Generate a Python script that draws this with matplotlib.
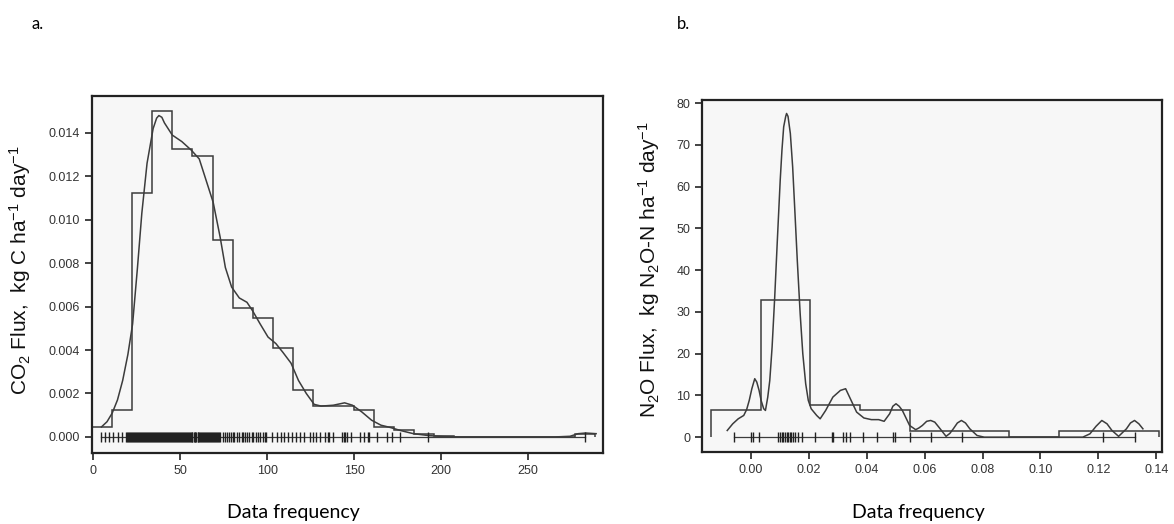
import numpy as np
import matplotlib
matplotlib.use("Agg")
import matplotlib.pyplot as plt

plt.rcParams['font.family'] = ['Liberation Sans', 'DejaVu Sans']
plt.rcParams['mathtext.fontset'] = 'custom'
plt.rcParams['mathtext.rm'] = 'Liberation Sans'
plt.rcParams['mathtext.it'] = 'Liberation Sans:italic'

# ---- panel a: CO2 flux ----
co2_edges = [-0.7, 10.9, 22.4, 34.0, 45.6, 57.1, 68.7, 80.3, 91.9, 103.4, 115.0,
             126.6, 138.1, 149.7, 161.3, 172.8, 184.4, 196.0, 207.6, 219.1, 230.7,
             242.3, 253.8, 265.4, 277.0, 288.6]
co2_hist = [0.00046, 0.00126, 0.01123, 0.0150, 0.01326, 0.01295, 0.00906, 0.00592,
            0.00548, 0.00408, 0.00217, 0.00142, 0.00142, 0.00126, 0.00046, 0.00030,
            0.00015, 0.00006, 0, 0, 0, 0, 0, 0, 0.00012]
co2_kde_x = [4.8, 8, 11, 14, 17, 20, 22.7, 25.5, 28, 31, 34.5, 36.5, 37.8, 39.5, 41,
             45.5, 51, 56.5, 61, 65, 69, 73, 76, 79.6, 84, 88.4, 91.7, 96, 100.5, 105,
             109, 113.7, 118, 122.5, 127, 131, 138, 144.5, 149, 154.4, 160, 165.4, 171,
             176.4, 184, 193, 201.7, 210.5, 230, 250, 265.5, 274, 278.7, 283, 289]
co2_kde_y = [0.00046, 0.0007, 0.0011, 0.0017, 0.0026, 0.0038, 0.0052, 0.0078, 0.0103,
             0.0126, 0.0142, 0.01468, 0.0148, 0.01472, 0.01446, 0.0139, 0.0136, 0.0132,
             0.0128, 0.0118, 0.0108, 0.0092, 0.0078, 0.0069, 0.0064, 0.0062, 0.0058,
             0.0052, 0.0046, 0.0043, 0.0039, 0.0034, 0.0026, 0.0020, 0.0015, 0.00142,
             0.00146, 0.00157, 0.00146, 0.00115, 0.00077, 0.00054, 0.00043, 0.0003,
             0.00015, 0.00006, 0.00002, 0, 0, 0, 0, 0.00003, 0.00015, 0.00018, 0.00015]
co2_rug = [4.4, 6.9, 9.4, 11.7, 14.2, 16.5, 18.8, 19.6,
           20.3, 20.9, 21.4, 22.0, 22.6, 23.1, 23.7, 24.3, 24.8, 25.4, 26.0, 26.5,
           27.1, 27.7, 28.2, 28.8, 29.4, 29.9, 30.5, 31.1, 31.6, 32.2, 32.8, 33.3,
           33.9, 34.5, 35.0, 35.6, 36.2, 36.7, 37.3, 37.9, 38.4, 39.0, 39.6, 40.1,
           40.7, 41.3, 41.8, 42.4, 43.0, 43.5, 44.1, 44.7, 45.2, 45.8, 46.4, 46.9,
           47.5, 48.1, 48.6, 49.2, 49.8, 50.3, 50.9, 51.5, 52.0, 52.6, 53.2, 53.7,
           54.3, 54.9, 55.4, 56.0, 56.6, 57.1, 57.7, 58.3, 58.8, 59.4, 60.0, 60.5,
           61.1, 61.7, 62.2, 62.8, 63.4, 63.9, 64.5, 65.1, 65.6, 66.2, 66.8, 67.3,
           67.9, 68.5, 69.0, 69.6, 70.2, 70.7, 71.3, 71.9, 72.4, 73.0,
           74.9, 75.9, 76.8, 77.8, 79.1, 80.3, 81.2, 82.6, 84.1, 85.4, 86.4, 87.4,
           88.7, 89.8, 91.2, 92.1, 93.7, 95.0, 96.0, 97.5, 98.5, 99.5,
           102.7, 105.5, 108.0, 109.8, 111.7, 114.2, 116.7, 119.0, 121.3, 124.7,
           126.6, 128.2, 130.1, 133.3, 134.7, 135.8, 138.1, 142.9, 143.9, 144.8,
           145.8, 148.1, 153.1, 155.4, 157.7, 158.8, 163.0, 168.8, 171.6, 176.4,
           192.4, 282.8]

# ---- panel b: N2O flux ----
n2o_edges = [-0.0139, 0.0033, 0.0205, 0.0377, 0.0549, 0.0721, 0.0893, 0.1065,
             0.1237, 0.1409]
n2o_hist = [6.4, 32.8, 7.75, 6.4, 1.36, 1.36, 0, 1.36, 1.36]
n2o_kde_x = [-0.0082, -0.0063, -0.0044, -0.0025, -0.0015, -0.0006, 0.0003, 0.0013,
             0.0020, 0.0028, 0.0035, 0.0044, 0.0050, 0.0058, 0.0065, 0.0073, 0.0082,
             0.0091, 0.0101, 0.0107, 0.0113, 0.0120, 0.0123, 0.0128, 0.0136, 0.0144,
             0.0151, 0.0160, 0.0170, 0.0179, 0.0189, 0.0198, 0.0208, 0.0227, 0.0239,
             0.0258, 0.0283, 0.0309, 0.0327, 0.0346, 0.0365, 0.0390, 0.0416, 0.0441,
             0.0460, 0.0479, 0.0490, 0.0501, 0.0512, 0.0523, 0.0548, 0.0569, 0.0580,
             0.0592, 0.0607, 0.0621, 0.0635, 0.0649, 0.0674, 0.0687, 0.0699, 0.0713,
             0.0727, 0.0741, 0.0756, 0.0781, 0.0806, 0.0950, 0.1146, 0.1171, 0.1192,
             0.1212, 0.1230, 0.1247, 0.1270, 0.1297, 0.1311, 0.1325, 0.1340, 0.1354]
n2o_kde_y = [1.6, 3.2, 4.4, 5.2, 6.6, 8.8, 11.6, 14.0, 13.2, 11.2, 8.8, 6.8, 6.4,
             9.6, 13.6, 21.6, 33.5, 47.0, 61.5, 68.7, 74.3, 76.8, 77.5, 76.8, 72.7,
             64.7, 55.0, 42.3, 29.5, 20.0, 12.8, 8.8, 6.8, 5.2, 4.4, 6.4, 9.6, 11.2,
             11.6, 8.8, 6.0, 4.6, 4.2, 4.2, 3.8, 5.6, 7.4, 8.0, 7.4, 6.4, 2.8, 1.8,
             2.2, 2.8, 3.8, 4.0, 3.6, 2.4, 0.2, 0.9, 2.0, 3.4, 4.0, 3.4, 2.0, 0.4, 0,
             0, 0, 0.8, 2.6, 4.0, 3.2, 1.6, 0.2, 2.0, 3.4, 4.0, 3.2, 2.0]
n2o_rug = [-0.0058, -0.0001, 0.0008, 0.0028, 0.0094, 0.0100, 0.0106, 0.0112,
           0.0117, 0.0123, 0.0129, 0.0135, 0.0140, 0.0146, 0.0152, 0.0164, 0.0175,
           0.0221, 0.0279, 0.0282, 0.0319, 0.0330, 0.0342, 0.0388, 0.0434, 0.0489,
           0.0497, 0.0549, 0.0621, 0.0728, 0.1215, 0.1326]

line_c = '#3c3c3c'
fig = plt.figure(figsize=(11.74, 5.24), dpi=100)
ax1 = fig.add_axes([0.0784, 0.1355, 0.4353, 0.6813])
ax2 = fig.add_axes([0.598, 0.137, 0.3918, 0.672])

def draw(ax, edges, hist, kx, ky, rug):
    ax.set_facecolor('#f7f7f7')
    ax.stairs(hist, edges, color=line_c, lw=1.1)
    ax.plot(kx, ky, color=line_c, lw=1.1)
    ax.plot([min(rug), max(rug)], [0, 0], color=line_c, lw=0.9)
    ax.plot(rug, np.zeros(len(rug)), ls='none', marker='|', ms=7.5,
            mew=1.0, color='#222222')
    for s in ax.spines.values():
        s.set_linewidth(1.6)
        s.set_color('#222222')
    ax.tick_params(direction='out', length=5, width=1.2, labelsize=9,
                   colors='#222222', labelcolor='#333333')

draw(ax1, co2_edges, co2_hist, co2_kde_x, co2_kde_y, co2_rug)
ax1.set_xlim(-0.6, 293)
ax1.set_ylim(-0.00074, 0.0157)
ax1.set_xticks([0, 50, 100, 150, 200, 250])
ax1.set_yticks([0, 0.002, 0.004, 0.006, 0.008, 0.010, 0.012, 0.014])
ax1.set_yticklabels(['%.3f' % v for v in ax1.get_yticks()])

draw(ax2, n2o_edges, n2o_hist, n2o_kde_x, n2o_kde_y, n2o_rug)
ax2.set_xlim(-0.0169, 0.142)
ax2.set_ylim(-3.6, 80.7)
ax2.set_xticks([0.00, 0.02, 0.04, 0.06, 0.08, 0.10, 0.12, 0.14])
ax2.set_xticklabels(['%.2f' % v for v in ax2.get_xticks()])
ax2.set_yticks(range(0, 81, 10))

fig.text(0.017, 0.485, r'CO$_2$ Flux,  kg C ha$^{-1}$ day$^{-1}$', rotation=90,
         ha='center', va='center', fontsize=15, color='#111111')
fig.text(0.553, 0.485, r'N$_2$O Flux,  kg N$_2$O-N ha$^{-1}$ day$^{-1}$', rotation=90,
         ha='center', va='center', fontsize=15, color='#111111')

fig.text(0.250, 0.022, 'Data frequency', ha='center', va='center', fontsize=14,
         family=['Lato', 'DejaVu Sans'])
fig.text(0.782, 0.022, 'Data frequency', ha='center', va='center', fontsize=14,
         family=['Lato', 'DejaVu Sans'])
fig.text(0.032, 0.955, 'a.', ha='center', va='center', fontsize=12,
         family=['Lato', 'DejaVu Sans'])
fig.text(0.582, 0.955, 'b.', ha='center', va='center', fontsize=12,
         family=['Lato', 'DejaVu Sans'])

fig.savefig('out.png', dpi=100)
